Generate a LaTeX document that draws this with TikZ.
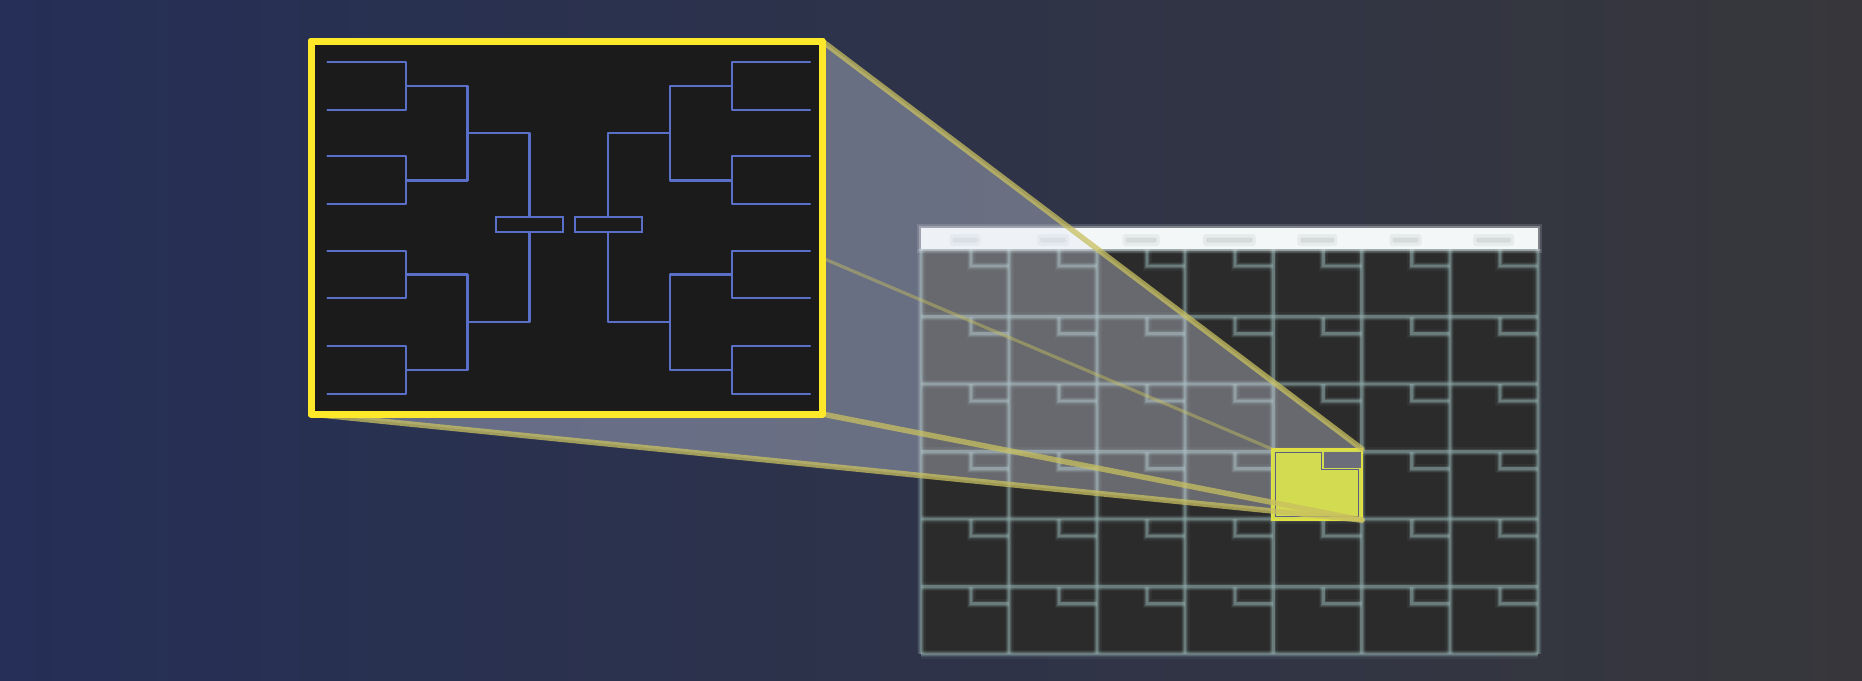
\documentclass[tikz,border=0pt]{standalone}
\usetikzlibrary{calc}
\definecolor{bgL}{HTML}{252F57}
\definecolor{bgM}{HTML}{2C3250}
\definecolor{bgR}{HTML}{37373B}
\definecolor{framefill}{HTML}{1B1B1B}
\definecolor{frameyel}{HTML}{FDE82A}
\definecolor{brkblue}{HTML}{5A70C8}
\definecolor{calbg}{HTML}{2B2B2B}
\definecolor{gridc}{HTML}{8FAAAA}
\definecolor{headc}{HTML}{F4F7F7}
\definecolor{smudge}{HTML}{B4BEBE}
\definecolor{conecol}{HTML}{C8C060}
\definecolor{conefill}{HTML}{E4EAF8}
\definecolor{hlfill}{HTML}{D3DB50}
\definecolor{hlborder}{HTML}{E0E040}
\definecolor{cutgray}{HTML}{6B6E7A}
\definecolor{thinline}{HTML}{5D6080}
\newcommand\halfbrk[1]{%
  \foreach \t/\b in {62.2/109.6, 155.8/204.3, 250.8/297.9, 345.6/393.6}{
    \draw[brk] (327.5,\t) -- (406,\t) -- (406,\b) -- (327.5,\b);
  }
  \draw[brk] (406,86.3) -- (467.5,86.3) -- (467.5,180.5) -- (406,180.5);
  \draw[brk] (406,274.4) -- (467.5,274.4) -- (467.5,369.8) -- (406,369.8);
  \draw[brk] (467.5,133) -- (529.5,133) -- (#1.north);
  \draw[brk] (467.5,322) -- (529.5,322) -- (#1.south);
}
\begin{document}
\begin{tikzpicture}[x=1pt,y=-1pt,
  brk/.style={draw=brkblue, line width=2.2pt, line join=round, line cap=round},
  finalbox/.style={draw=brkblue, line width=2.2pt, fill=framefill, minimum width=67pt, minimum height=15pt, inner sep=0pt, outer sep=0pt},
  coneline/.style={draw=conecol, line width=5.5pt, opacity=0.75, line cap=round},
  conethin/.style={draw=conecol, line width=3.2pt, opacity=0.45},
  zoomframe/.style={draw=frameyel, fill=framefill, line width=7pt, line join=round, minimum width=511pt, minimum height=373pt, inner sep=0pt, outer sep=0pt},
  hlbox/.style={draw=hlborder, fill=hlfill, line width=2.5pt, minimum width=90pt, minimum height=71pt, inner sep=0pt, outer sep=0pt}
]
\useasboundingbox (0,0) rectangle (1862,680);
% background
\shade[left color=bgL, middle color=bgM, right color=bgR] (0,0) rectangle (1862,680);

% ---------- calendar ----------
\fill[calbg] (921,228) rectangle (1538,654);
\foreach \w/\o in {9/0.08, 6/0.16, 4/0.26, 2.2/0.38}{
  \begin{scope}[draw=gridc, line width=\w pt, opacity=\o]
    \foreach \i in {0,...,7}{ \draw ({921+88.1*\i},249) -- ({921+88.1*\i},654); }
    \foreach \j in {0,...,6}{ \draw (921,{249+67.5*\j}) -- (1537.7,{249+67.5*\j}); }
    \foreach \i in {0,...,6}{
      \foreach \j in {0,...,5}{
        \draw ({921+88.1*\i+50},{249+67.5*\j}) -- ++(0,17) -- ({921+88.1*(\i+1)},{249+67.5*\j+17});
      }
    }
  \end{scope}
}
% header bar (soft)
\foreach \e/\o in {4/0.15, 2/0.3}{
  \fill[headc, opacity=\o] ({921-\e},{228-\e}) rectangle ({1538+\e},{249+\e});
}
\fill[headc] (921,228) rectangle (1538,249);
\foreach \i/\w in {0/25, 1/26, 2/31, 3/47, 4/34, 5/26, 6/35}{
  \fill[smudge, opacity=0.2, rounded corners=3pt] ({921+88.1*\i+44-\w/2-3},{234}) rectangle ({921+88.1*\i+44+\w/2+3},{246});
  \fill[smudge, opacity=0.35, rounded corners=2pt] ({921+88.1*\i+44-\w/2},{237.5}) rectangle ({921+88.1*\i+44+\w/2},{242.5});
}

% ---------- highlighted cell and zoom frame nodes ----------
\node[zoomframe] (frame) at (566.5,227.5) {};
\node[hlbox] (hl) at (1317,484.5) {};

% cone fill
\fill[conefill, opacity=0.33] (frame.south west) -- (frame.north east) -- (hl.north east) -- (hl.south east) -- cycle;

% redraw highlighted cell on top of the cone
\node[hlbox] at (hl.center) {};
\fill[cutgray] (1324,451.5) rectangle (1360.5,468);
\draw[thinline, line width=1pt] (1275,452.5) -- (1321.7,452.5) -- (1321.7,469.5) -- (1358.5,469.5) -- (1358.5,516.5) -- (1275,516.5) -- cycle;

% cone edges
\draw[conethin] (frame.north west) -- (hl.north west);
\draw[coneline] (frame.north east) -- (hl.north east);
\draw[coneline] (frame.south west) -- (hl.south east);
\draw[coneline] (frame.south east) -- (hl.south east);

% zoom frame on top
\node[zoomframe] at (frame.center) {};

% ---------- bracket ----------
\node[finalbox] (boxL) at (529.5,224.6) {};
\node[finalbox] (boxR) at (608.1,224.6) {};
\halfbrk{boxL}
\begin{scope}[shift={(1137.6,0)}, xscale=-1]
  \halfbrk{boxR}
\end{scope}
\end{tikzpicture}
\end{document}
